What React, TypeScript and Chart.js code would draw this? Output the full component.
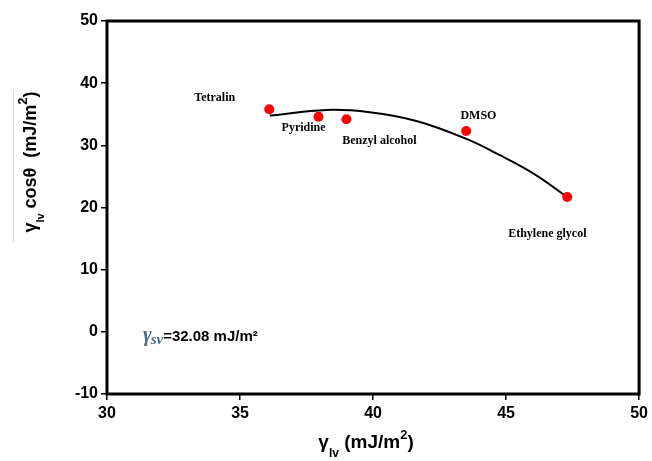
import React, { useEffect, useRef } from "react";
import { Chart, registerables } from "chart.js";

Chart.register(...registerables);

const liquids = ["Tetralin", "Pyridine", "Benzyl alcohol", "DMSO", "Ethylene glycol"];
const surfaceTension = [36.1, 37.95, 39.0, 43.5, 47.3];
const cosValues = [35.8, 34.6, 34.2, 32.3, 21.7];
// points
const curveX = [36.12, 38.26, 39.87, 41.63, 43.51, 44.75, 45.99, 47.3];
const curveY = [34.78, 35.69, 35.32, 33.92, 31.03, 28.46, 25.56, 21.7];
// label anchors (data coordinates)
const labelX = [34.05, 37.39, 40.24, 43.96, 46.55];
const labelY = [37.6, 32.8, 30.7, 34.7, 15.8];
const xTicks = [30, 35, 40, 45, 50];
const yTicks = [-10, 0, 10, 20, 30, 40, 50];

const SANS = "'Liberation Sans', Arial, sans-serif";

const textPlugin = {
  id: "texts",
  afterDraw(chart: any) {
    const { ctx, chartArea, scales } = chart;
    ctx.save();
    // frame
    ctx.strokeStyle = "#000";
    ctx.lineWidth = 3;
    ctx.strokeRect(chartArea.left, chartArea.top, chartArea.right - chartArea.left, chartArea.bottom - chartArea.top);

    // point labels
    ctx.fillStyle = "#000";
    ctx.font = "bold 12px 'Liberation Serif', 'Times New Roman', serif";
    ctx.textAlign = "center";
    ctx.textBaseline = "middle";
    liquids.forEach((name, i) => {
      ctx.fillText(name, scales.x.getPixelForValue(labelX[i]), scales.y.getPixelForValue(labelY[i]));
    });

    // annotation
    const ax = scales.x.getPixelForValue(31.35);
    const ay = scales.y.getPixelForValue(-1.4);
    ctx.textAlign = "left";
    ctx.textBaseline = "alphabetic";
    ctx.fillStyle = "#4f6f8f";
    ctx.font = "italic bold 21px 'Liberation Serif', serif";
    ctx.fillText("γ", ax, ay);
    let w = ctx.measureText("γ").width;
    ctx.font = "italic bold 15px 'Liberation Serif', serif";
    ctx.fillText("sv", ax + w - 1, ay + 3);
    w += ctx.measureText("sv").width - 1;
    ctx.fillStyle = "#000";
    ctx.font = `bold 15px ${SANS}`;
    ctx.fillText("=32.08 mJ/m²", ax + w, ay);

    // x title
    const xc = (chartArea.left + chartArea.right) / 2 - 7;
    ctx.font = `bold 19px ${SANS}`;
    const main = "(mJ/m";
    const gW = ctx.measureText("γ").width;
    ctx.font = `bold 12px ${SANS}`;
    const subW = ctx.measureText("lv").width;
    ctx.font = `bold 19px ${SANS}`;
    const mW = ctx.measureText(" " + main).width;
    const pW = ctx.measureText(")").width;
    ctx.font = `bold 13px ${SANS}`;
    const sW = ctx.measureText("2").width;
    const total = gW + subW + mW + sW + pW;
    let x0 = xc - total / 2;
    const by = 448;
    ctx.font = `bold 19px ${SANS}`;
    ctx.fillText("γ", x0, by);
    x0 += gW;
    ctx.font = `bold 12px ${SANS}`;
    ctx.fillText("lv", x0, by + 9);
    x0 += subW;
    ctx.font = `bold 19px ${SANS}`;
    ctx.fillText(" " + main, x0, by);
    x0 += mW;
    ctx.font = `bold 13px ${SANS}`;
    ctx.fillText("2", x0, by - 9);
    x0 += sW;
    ctx.font = `bold 19px ${SANS}`;
    ctx.fillText(")", x0, by);

    // y title (rotated)
    ctx.save();
    ctx.translate(36, 162);
    ctx.rotate(-Math.PI / 2);
    const parts: [string, string, number][] = [
      ["γ", `bold 18px ${SANS}`, 0],
      ["lv", `bold 11px ${SANS}`, 8],
      [" cosθ  (mJ/m", `bold 18px ${SANS}`, 0],
      ["2", `bold 13px ${SANS}`, -9],
      [")", `bold 18px ${SANS}`, 0],
    ];
    let tw = 0;
    parts.forEach(([t, f]) => {
      ctx.font = f;
      tw += ctx.measureText(t).width;
    });
    let px = -tw / 2;
    parts.forEach(([t, f, dy]) => {
      ctx.font = f;
      ctx.fillText(t, px, dy);
      px += ctx.measureText(t).width;
    });
    ctx.restore();

    // faint line artifact at left
    ctx.strokeStyle = "#d8d8d8";
    ctx.lineWidth = 1;
    ctx.beginPath();
    ctx.moveTo(13.5, 90);
    ctx.lineTo(13.5, 242);
    ctx.stroke();

    ctx.restore();
  },
};

export default function App() {
  const ref = useRef<HTMLCanvasElement>(null);
  useEffect(() => {
    document.body.style.margin = "0";
    const chart = new Chart(ref.current!, {
      type: "scatter",
      data: {
        datasets: [
          {
            label: "fit",
            data: curveX.map((x, i) => ({ x, y: curveY[i] })),
            showLine: true,
            borderColor: "#000",
            borderWidth: 2,
            pointRadius: 0,
            tension: 0.4,
            order: 2,
          } as any,
          {
            label: "data",
            data: surfaceTension.map((x, i) => ({ x, y: cosValues[i] })),
            backgroundColor: "#ff0000",
            borderColor: "#ff0000",
            pointRadius: 5,
            pointBorderWidth: 0,
            order: 1,
          },
        ],
      },
      options: {
        animation: false,
        responsive: false,
        layout: { padding: { top: 21, right: 12, left: 0, bottom: 0 } },
        plugins: { legend: { display: false }, tooltip: { enabled: false } },
        scales: {
          x: {
            type: "linear",
            min: 30,
            max: 50,
            afterBuildTicks: (s: any) => {
              s.ticks = xTicks.map((v) => ({ value: v }));
            },
            afterFit: (s: any) => {
              s.height = 67;
            },
            grid: { drawOnChartArea: false, drawTicks: true, tickLength: 6, color: "#000", lineWidth: 1.5 },
            border: { display: false },
            ticks: { color: "#000", font: { family: SANS, size: 16, weight: "bold" }, padding: 4, maxRotation: 0 },
          },
          y: {
            type: "linear",
            min: -10,
            max: 50,
            afterBuildTicks: (s: any) => {
              s.ticks = yTicks.map((v) => ({ value: v }));
            },
            afterFit: (s: any) => {
              s.width = 107;
            },
            grid: { drawOnChartArea: false, drawTicks: true, tickLength: 6, color: "#000", lineWidth: 1.5 },
            border: { display: false },
            ticks: { color: "#000", font: { family: SANS, size: 16, weight: "bold" }, padding: 3 },
          },
        },
      },
      plugins: [textPlugin],
    });
    return () => chart.destroy();
  }, []);
  return <canvas ref={ref} width={652} height={461} style={{ display: "block" }} />;
}
